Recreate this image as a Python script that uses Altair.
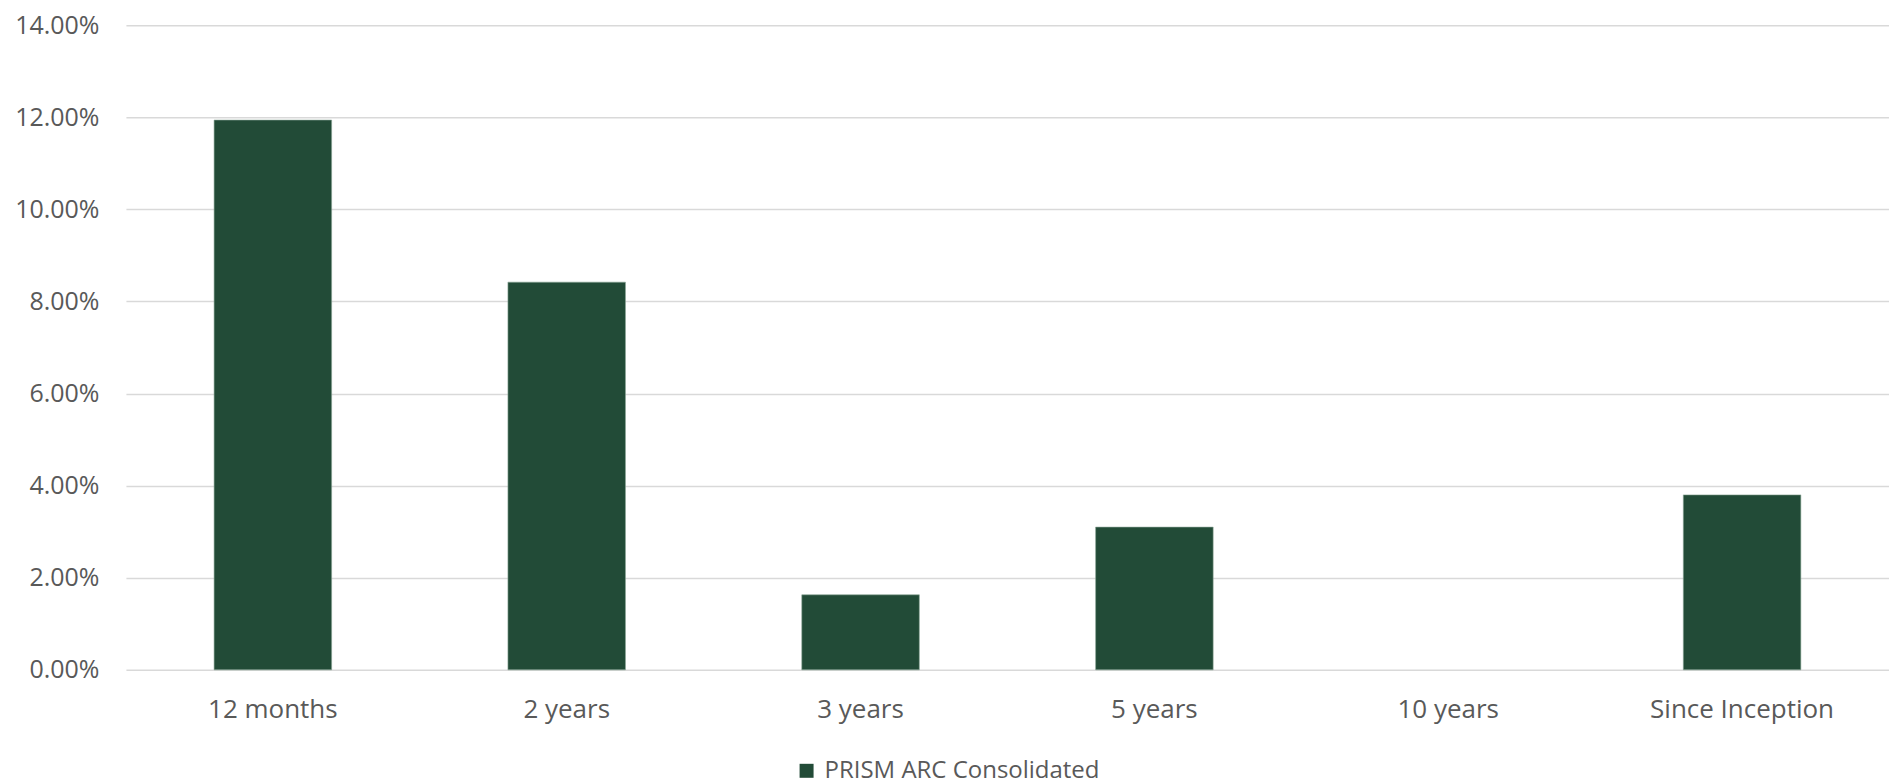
import altair as alt
import pandas as pd

categories = ["12 months", "2 years", "3 years", "5 years", "10 years", "Since Inception"]
values = [0.1194, 0.0842, 0.0163, 0.0310, None, 0.0380]
series_name = "PRISM ARC Consolidated"
y_ticks = [0.0, 0.02, 0.04, 0.06, 0.08, 0.10, 0.12, 0.14]

df = pd.DataFrame({"category": categories, "value": values, "series": [series_name] * len(categories)})

FONT = "Open Sans"
LABEL = "#595959"

chart = alt.Chart(df).mark_bar(stroke="#8aa596", strokeWidth=0.6).encode(
    x=alt.X("category:N", sort=categories, scale=alt.Scale(domain=categories, paddingInner=0.6, paddingOuter=0.3),
            axis=alt.Axis(title=None, labelAngle=0, domain=False, ticks=False, labelPadding=27,
                          labelFont=FONT, labelFontSize=26, labelColor=LABEL, labelLimit=0)),
    y=alt.Y("value:Q", scale=alt.Scale(domain=[0, 0.14], nice=False),
            axis=alt.Axis(title=None, format=".2%", values=y_ticks, domain=False, ticks=False,
                          labelPadding=27, labelFont=FONT, labelFontSize=25, labelColor=LABEL,
                          gridColor="#D9D9D9", gridWidth=1.5)),
    color=alt.Color("series:N", scale=alt.Scale(domain=[series_name], range=["#224B37"]),
                    legend=alt.Legend(title=None, orient="none", legendX=669, legendY=734,
                                      symbolType="square", symbolSize=196, symbolStrokeWidth=0,
                                      labelFont=FONT, labelFontSize=24, labelColor=LABEL,
                                      labelLimit=0, labelOffset=6, padding=0)),
).properties(
    width=1764, height=645,
    autosize=alt.AutoSizeParams(type="none"),
    padding={"left": 118, "top": 17, "right": 0, "bottom": 120},
).configure_view(stroke=None)

chart.save("out.html", embed_options={"renderer": "svg", "actions": False})
